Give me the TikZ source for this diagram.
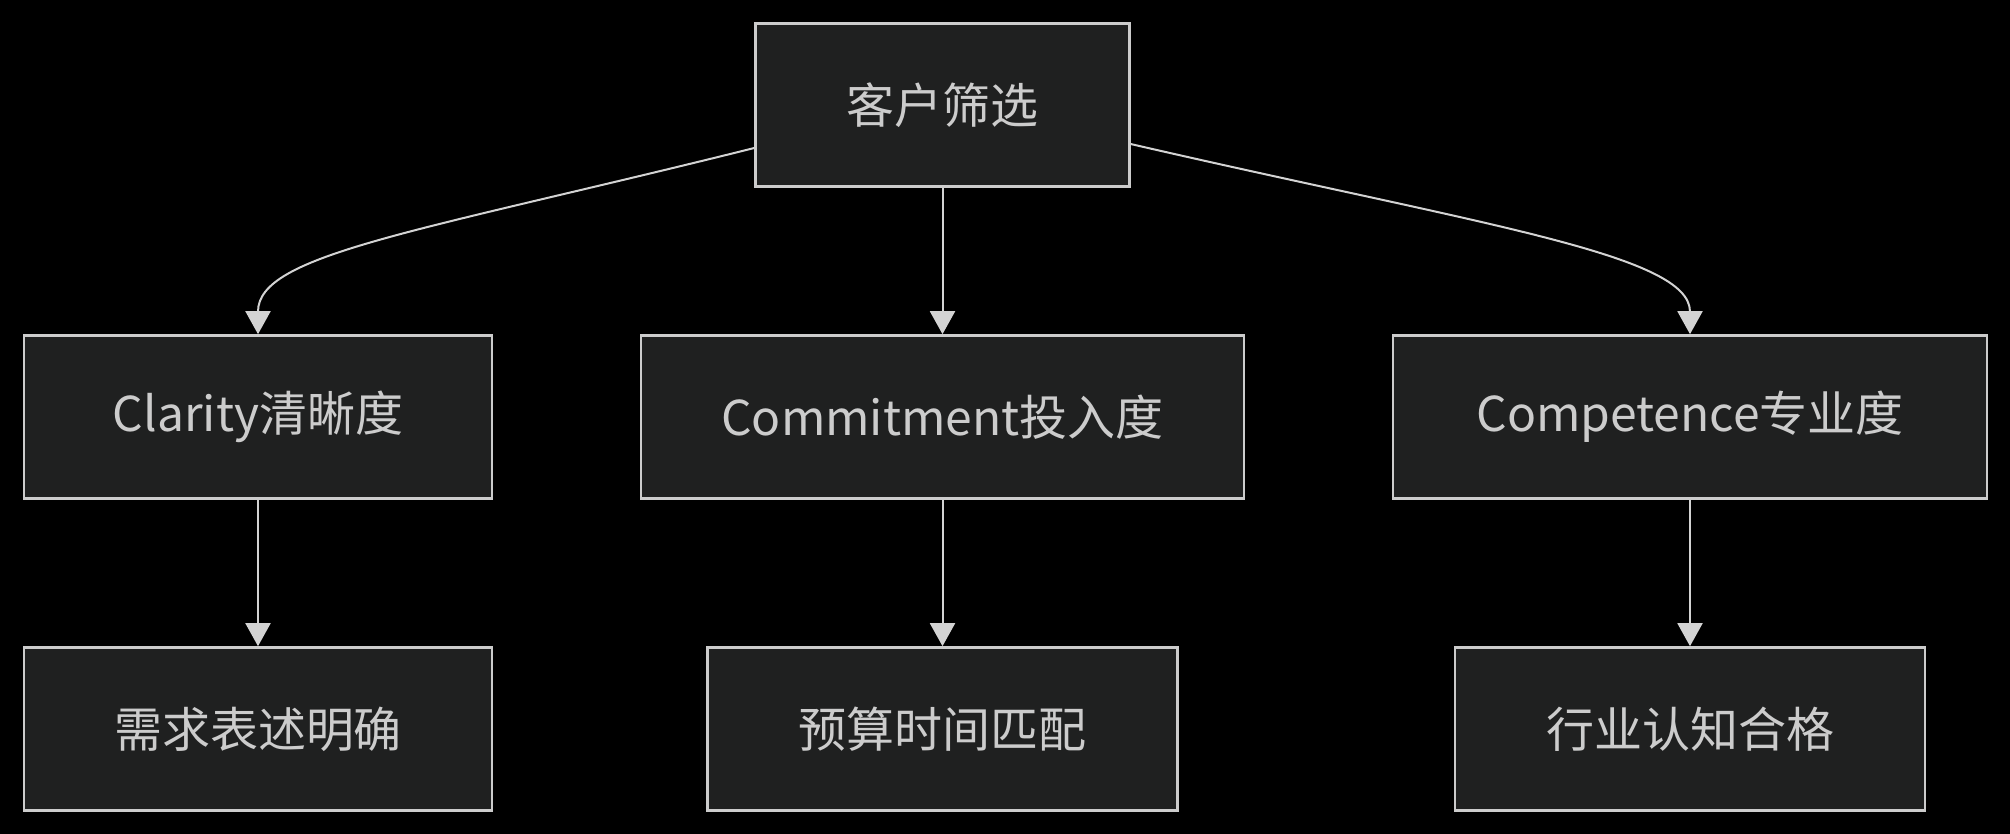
\documentclass[tikz,border=0pt]{standalone}
\usepackage{fontspec}
\setmainfont{Noto Sans CJK SC}
\usetikzlibrary{arrows.meta}
\definecolor{nodefill}{HTML}{1F2020}
\definecolor{nodeline}{HTML}{CCCCCC}
\definecolor{edgeline}{HTML}{D3D3D3}

\begin{document}
\begin{tikzpicture}[x=0.5pt, y=0.5pt,
		box/.style={draw=nodeline, fill=nodefill, line width=1.3pt, text=nodeline,
			inner sep=0pt, minimum height=81.5pt, font=\fontsize{24pt}{28pt}\selectfont},
		edge/.style={draw=edgeline, line width=1pt, -{Triangle[width=12.5pt,length=11.5pt]}}]
			\fill[black] (0,0) rectangle (2010,834);
			\useasboundingbox (0,0) rectangle (2010,834);
			\node[box, minimum width=186.8pt, minimum height=81.7pt] (screen) at (942.5,729) {客户筛选};
			\node[box, minimum width=234pt] (clarity) at (258,417) {Clarity清晰度};
			\node[box, minimum width=301.5pt] (commit) at (942.5,417) {Commitment投入度};
			\node[box, minimum width=297pt] (compet) at (1690,417) {Competence专业度};
			\node[box, minimum width=234pt] (needs) at (258,105) {需求表述明确};
			\node[box, minimum width=235pt] (budget) at (942.5,105) {预算时间匹配};
			\node[box, minimum width=235pt] (industry) at (1690,105) {行业认知合格};
			\draw[edge] ([yshift=-21.5pt]screen.west) .. controls +(194:350) and +(90:80) .. (clarity.north);
			\draw[edge] (screen.south) -- (commit.north);
			\draw[edge] ([yshift=-19.5pt]screen.east) .. controls +(-13:360) and +(90:80) .. (compet.north);
			\draw[edge] (clarity.south) -- (needs.north);
			\draw[edge] (commit.south) -- (budget.north);
			\draw[edge] (compet.south) -- (industry.north);
		\end{tikzpicture}
\end{document}
